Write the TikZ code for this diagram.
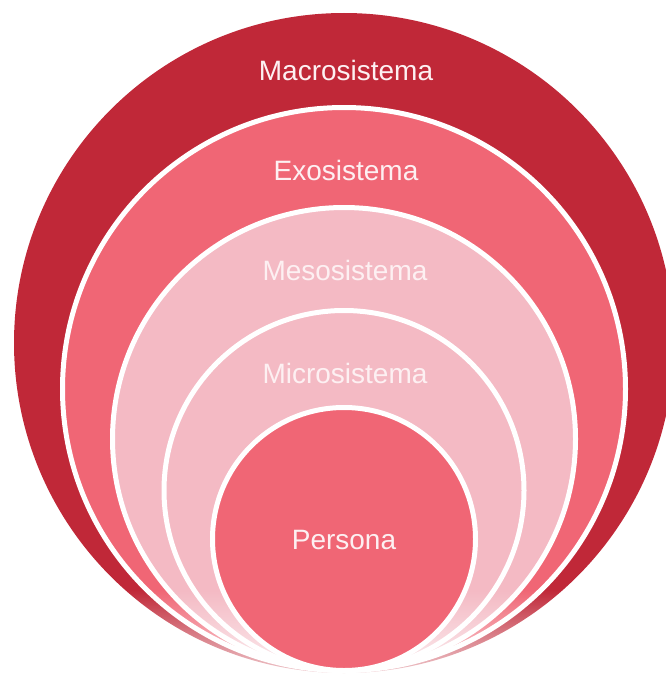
\documentclass[tikz,border=0pt]{standalone}
\usepackage{fontspec}
\setmainfont{Liberation Sans}
\usetikzlibrary{fadings}
\definecolor{macroc}{RGB}{192,40,56}
\definecolor{exoc}{RGB}{240,102,117}
\definecolor{mesoc}{RGB}{244,186,196}
\definecolor{txtc}{RGB}{253,240,242}
\tikzfading[name=fadebot, top color=transparent!100, bottom color=transparent!15]
\begin{document}
\begin{tikzpicture}[x=1pt,y=-1pt,
  ring/.style={circle, inner sep=0pt, outer sep=0pt, draw=white, line width=5pt},
  lbl/.style={text=txtc, inner sep=0pt, font=\fontsize{28pt}{32pt}\selectfont}]
\useasboundingbox (0,0) rectangle (666,685);
\clip (0,0) rectangle (666,685);
\node[circle, inner sep=0pt, fill=macroc, minimum size=660pt] (macro) at (344,343) {};
\node[ring, fill=exoc, minimum size=563pt] (exo) at (344,389) {};
\node[ring, fill=mesoc, minimum size=463pt] (meso) at (344,439) {};
\node[ring, fill=mesoc, minimum size=360pt] (micro) at (344,490.5) {};
\fill[white, path fading=fadebot] (0,590) rectangle (666,685);
\node[ring, fill=exoc, minimum size=263pt] (persona) at (344,539) {};
\node[lbl] (tmacro) at (346,70) {Macrosistema};
\node[lbl] (texo) at (346,170) {Exosistema};
\node[lbl] (tmeso) at (345,270) {Mesosistema};
\node[lbl] (tmicro) at (345,373) {Microsistema};
\node[lbl] (tpersona) at (344,540) {Persona};
\end{tikzpicture}
\end{document}
